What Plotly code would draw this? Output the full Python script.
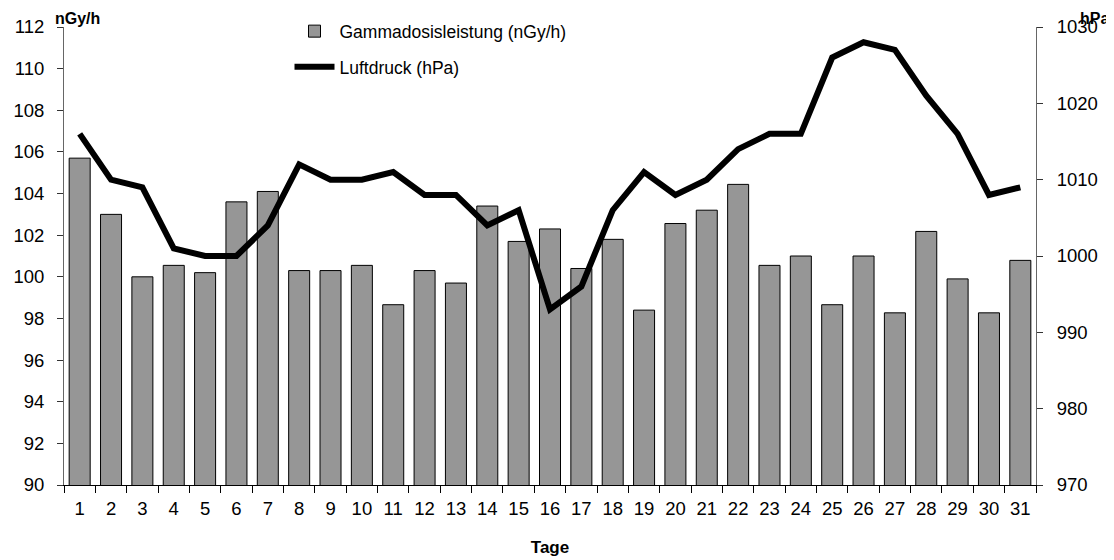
import plotly.graph_objects as go

days = list(range(1, 32))
day_labels = [str(d) for d in days]
gamma = [105.7, 103.0, 100.0, 100.55, 100.2, 103.6, 104.1, 100.3, 100.3, 100.55,
         98.66, 100.3, 99.7, 103.4, 101.7, 102.3, 100.4, 101.8, 98.4, 102.56,
         103.2, 104.44, 100.55, 101.0, 98.66, 101.0, 98.27, 102.18, 99.9, 98.27, 100.79]
pressure = [1016, 1010, 1009, 1001, 1000, 1000, 1004, 1012, 1010, 1010,
            1011, 1008, 1008, 1004, 1006, 993, 996, 1006, 1011, 1008,
            1010, 1014, 1016, 1016, 1026, 1028, 1027, 1021, 1016, 1008, 1009]

FONT = "Liberation Sans, Arial, sans-serif"
TICK = 18.5

fig = go.Figure()
fig.add_trace(go.Bar(
    x=days, y=gamma, name="Gammadosisleistung (nGy/h)",
    marker=dict(color="#969696", line=dict(color="black", width=1)),
    legend="legend"))
fig.add_trace(go.Scatter(
    x=days, y=pressure, name="Luftdruck (hPa)", mode="lines",
    line=dict(color="black", width=6), yaxis="y2", legend="legend2"))

fig.update_layout(
    width=1106, height=552,
    margin=dict(l=56, r=78, t=19, b=75, autoexpand=False),
    paper_bgcolor="white", plot_bgcolor="white",
    font=dict(family=FONT, size=17, color="black"),
    bargap=0.33,
    showlegend=True,
    xaxis=dict(
        range=[0.5, 31.5], tickmode="array", tickvals=days, ticktext=day_labels,
        showline=True, linecolor="black", linewidth=1,
        ticks="", showgrid=False, zeroline=False,
        tickfont=dict(size=TICK), ticklabelstandoff=7,
        title=dict(text="<b>Tage</b>", font=dict(size=17), standoff=22),
        minor=dict(ticks="outside", tickmode="array",
                   tickvals=[d + 0.5 for d in range(0, 32)],
                   ticklen=7, tickcolor="black", tickwidth=1),
    ),
    yaxis=dict(
        range=[90, 112], dtick=2, tick0=90,
        showline=True, linecolor="#666666", linewidth=1,
        ticks="outside", ticklen=6, tickcolor="#333333",
        tickfont=dict(size=TICK), ticklabelstandoff=9,
        showgrid=False, zeroline=False,
    ),
    yaxis2=dict(
        range=[970, 1030], dtick=10, tick0=970, overlaying="y", side="right",
        showline=True, linecolor="#666666", linewidth=1,
        ticks="outside", ticklen=6, tickcolor="#333333",
        tickfont=dict(size=TICK), ticklabelstandoff=10,
        showgrid=False, zeroline=False,
    ),
    legend=dict(x=0.232, y=1.03, xanchor="left", yanchor="top",
                bgcolor="rgba(0,0,0,0)", font=dict(size=17.5), itemwidth=40),
    legend2=dict(x=0.232, y=0.952, xanchor="left", yanchor="top",
                 bgcolor="rgba(0,0,0,0)", font=dict(size=17.5), itemwidth=40),
    annotations=[
        dict(text="<b>nGy/h</b>", x=0.0, y=1.0, xref="paper", yref="paper",
             xanchor="left", yanchor="bottom", yshift=-2, xshift=-11,
             showarrow=False, font=dict(size=16)),
        dict(text="<b>hPa</b>", x=1.0, y=1.0, xref="paper", yref="paper",
             xanchor="left", yanchor="bottom", yshift=-2, xshift=42,
             showarrow=False, font=dict(size=16)),
    ],
)

fig.write_html("out.html")
